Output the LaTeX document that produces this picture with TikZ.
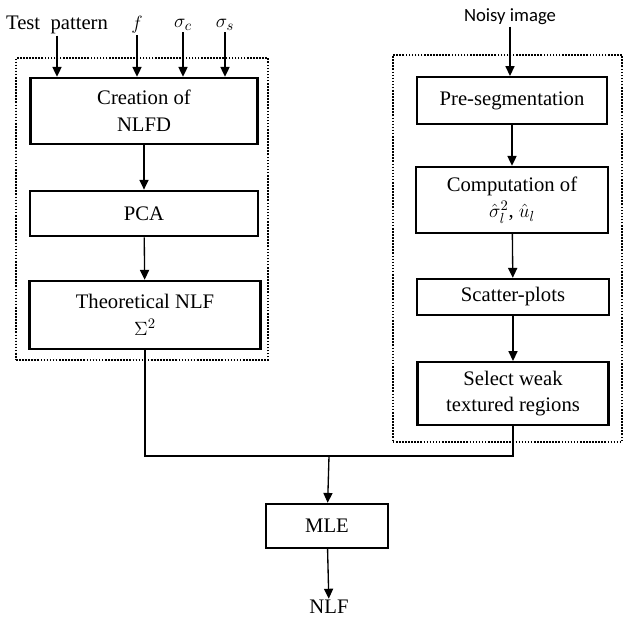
\documentclass[tikz,border=0pt]{standalone}
\usepackage{fontspec}
\setmainfont{Liberation Serif}
\newfontfamily\labelfont{Carlito}
\usetikzlibrary{arrows.meta, positioning}
\tikzset{
  box/.style={draw, line width=1.8pt, align=center, inner sep=2pt, font=\fontsize{15.5}{20}\selectfont},
  group/.style={draw, line width=1.5pt, dash pattern=on 1.2pt off 1.1pt, inner sep=0pt},
  arr/.style={-{Triangle[length=2.6mm, width=2.4mm]}, line width=1pt},
  wire/.style={line width=1pt},
  lbl/.style={font=\fontsize{15.5}{18}\selectfont, inner sep=1pt},
}

\begin{document}
\begin{tikzpicture}[x=0.75pt, y=-0.75pt]
    \useasboundingbox (0,0) rectangle (625,617);
    % dotted groups
    \node[group, minimum width=189pt, minimum height=226.5pt] (left) at (142,209) {};
    \node[group, minimum width=172pt, minimum height=290pt] (right) at (507.5,248.5) {};
    % left column
    \node[box, minimum width=170pt, minimum height=49.5pt] (nlfd) at (144,111) {Creation of\\NLFD};
    \node[box, minimum width=171pt, minimum height=34pt] (pca) at (144,213.5) {PCA};
    \node[box, minimum width=173pt, minimum height=51pt] (theo) at (145,315) {Theoretical NLF\\$\Sigma^2$};
    % right column
    \node[box, minimum width=142.5pt, minimum height=35pt] (preseg) at (512,100.5) {Pre-segmentation};
    \node[box, minimum width=144pt, minimum height=49.5pt] (comp) at (512,200) {Computation of\\$\hat{\sigma}_l^2$, $\hat{u}_l$};
    \node[box, minimum width=144pt, minimum height=27pt] (scat) at (513,297) {Scatter-plots};
    \node[box, minimum width=143pt, minimum height=47pt] (sel) at (513,393.5) {Select weak\\textured regions};
    \node[box, minimum width=91.5pt, minimum height=33pt] (mle) at (327,526) {MLE};
    \node[lbl] (nlf) at (329,607) {NLF};
    % inputs
    \node[lbl] (test) at (57,25) {Test\ \ pattern};
    \node[lbl] (freq) at (137,25) {$f$};
    \node[lbl] (sigc) at (183,25) {$\sigma_c$};
    \node[lbl] (sigs) at (225,25) {$\sigma_s$};
    \node[lbl, font=\labelfont\fontsize{14}{16}\selectfont] (noisy) at (510,17) {Noisy image};
    \coordinate (join) at (329,456);

    \foreach \n in {test, freq, sigc, sigs}
      \draw[arr] (\n.south) -- (\n.south |- nlfd.north);
    \draw[arr] (noisy.south) -- (noisy.south |- preseg.north);
    \draw[arr] (nlfd) -- (pca);
    \draw[arr] (pca) -- (theo);
    \draw[arr] (preseg) -- (comp);
    \draw[arr] (comp) -- (scat);
    \draw[arr] (scat) -- (sel);
    \draw[wire] (theo.south) |- (join) -| (sel.south);
    \draw[arr] (join) -- (mle);
    \draw[arr] (mle) -- (nlf);
  \end{tikzpicture}
\end{document}
